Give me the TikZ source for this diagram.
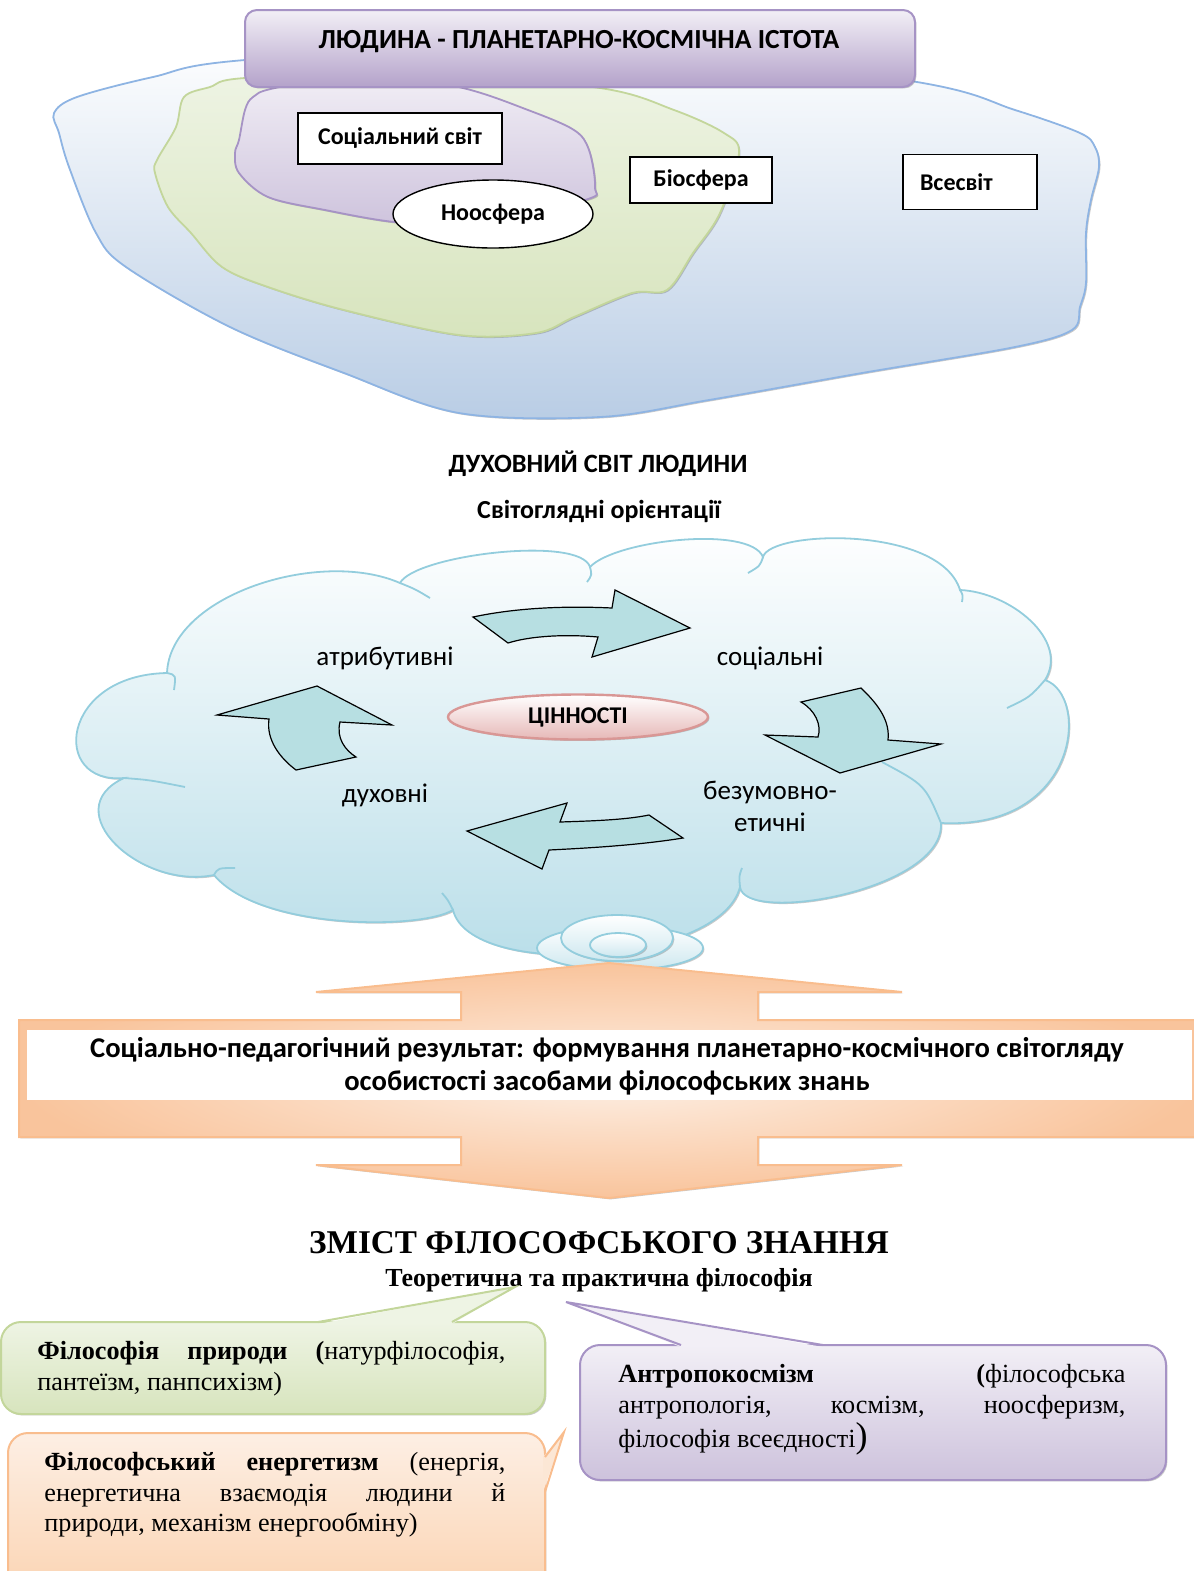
\documentclass[tikz,border=0pt]{standalone}
\usepackage{fontspec}
\setmainfont{Carlito}
\newfontfamily\timesfont{Liberation Serif}
\usetikzlibrary{shapes.geometric,shadows}

\definecolor{skyedge}{HTML}{8EB4E3}
\definecolor{skybottom}{HTML}{B9CDE5}
\definecolor{leafedge}{HTML}{C3D69B}
\definecolor{leaftop}{HTML}{EEF4E4}
\definecolor{leafbottom}{HTML}{D7E4BD}
\definecolor{lilacedge}{HTML}{A693C5}
\definecolor{lilacpale}{HTML}{F2EFF6}
\definecolor{lilacbottom}{HTML}{CDC2DC}
\definecolor{lilacdeep}{HTML}{B4A2CA}
\definecolor{cloudedge}{HTML}{93CDDD}
\definecolor{cloudbottom}{HTML}{B7DDE8}
\definecolor{arrowfill}{HTML}{B7DFE2}
\definecolor{roseedge}{HTML}{D99795}
\definecolor{rosebottom}{HTML}{E6B8B7}
\definecolor{peachedge}{HTML}{F9BD8E}
\definecolor{peachpale}{HTML}{FDEFE4}
\definecolor{peachmid}{HTML}{FBD3B1}
\definecolor{peachdark}{HTML}{F9C49C}

\begin{document}
\begin{tikzpicture}[x=0.5pt, y=-0.5pt,
    softshadow/.style={drop shadow={shadow xshift=0.7pt, shadow yshift=-0.7pt, opacity=0.35, fill=black!60}},
    universe/.style={draw=skyedge, line width=0.9pt, top color=white, bottom color=skybottom, softshadow},
    biosphere/.style={draw=leafedge, line width=0.9pt, top color=leaftop, bottom color=leafbottom, softshadow},
    socium/.style={draw=lilacedge, line width=0.9pt, top color=lilacpale, bottom color=lilacbottom, softshadow},
    framebox/.style={draw, line width=0.7pt, fill=white, inner sep=0pt, font=\bfseries\fontsize{12}{14}\selectfont},
    titlebox/.style={draw=lilacedge, line width=1pt, rounded corners=6pt, top color=lilacpale, bottom color=lilacdeep, softshadow},
    headline/.style={font=\bfseries\fontsize{13.2}{15}\selectfont},
    cloudshape/.style={draw=cloudedge, line width=0.9pt, top color=white, bottom color=cloudbottom, softshadow},
    puffline/.style={draw=cloudedge, line width=0.9pt},
    orient/.style={font=\fontsize{13.5}{16}\selectfont},
    turnarrow/.style={fill=arrowfill, draw=black, line width=0.6pt},
    bubble/.style={ellipse, draw=cloudedge, line width=0.9pt, top color=white, bottom color=cloudbottom!70, inner sep=0pt, softshadow},
    resultarrow/.style={draw=peachedge, line width=1pt, inner color=peachpale, outer color=peachdark, softshadow},
    callout/.style={rounded corners=10pt, line width=1pt, inner sep=0pt, softshadow},
    calltext/.style={font=\timesfont\fontsize{13.1}{15.3}\selectfont, align=left, inner sep=0pt, anchor=north west}]

\useasboundingbox (0,0) rectangle (1194,1571);

% Сфери
\path[universe] plot[smooth cycle, tension=0.55] coordinates {(245,60) (153,77) (77,97) (54,113) (59,133) (69,167) (96,233) (126,267) (230,327) (344,373) (459,413) (600,417) (709,400) (862,373) (1015,347) (1072,330) (1080,307) (1086,283) (1086,233) (1091,200) (1099,167) (1095,147) (1080,133) (1015,110) (917,82) (600,40)};
\path[biosphere] plot[smooth cycle, tension=0.55] coordinates {(245,78) (210,87) (184,97) (176,127) (157,160) (155,173) (168,207) (191,233) (222,267) (268,287) (344,310) (459,335) (536,333) (574,317) (632,293) (667,290) (693,253) (720,213) (739,153) (724,133) (674,110) (600,88) (420,72)};
\path[socium] plot[smooth cycle, tension=0.55] coordinates {(275,88) (253,97) (245,110) (239,140) (235,153) (239,173) (268,197) (325,210) (394,222) (470,226) (585,200) (595,187) (589,150) (574,130) (528,110) (463,88) (370,72)};

\node[framebox, minimum width=102pt, minimum height=25.5pt] (socialworld) at (400,138.5) {Соціальний світ};
\node[framebox, ellipse, minimum width=100pt, minimum height=34pt] (noosphere) at (493,214) {Ноосфера};
\node[framebox, minimum width=71pt, minimum height=23pt] (biosphereBox) at (701,180) {Біосфера};
\node[framebox, text width=50pt, inner xsep=8.5pt, minimum height=27.5pt, align=left] (cosmos) at (970,182) {Всесвіт};

\node[titlebox, minimum width=335pt, minimum height=38.5pt] (titlebar) at (580,48.5) {};
\node[font=\bfseries\fontsize{13.8}{16}\selectfont, anchor=base] (title) at (579,48) {ЛЮДИНА - ПЛАНЕТАРНО-КОСМІЧНА ІСТОТА};

% Духовний світ
\node[headline, anchor=base] (spirit) at (598,472) {ДУХОВНИЙ СВІТ ЛЮДИНИ};
\node[font=\bfseries\fontsize{13}{15}\selectfont, anchor=base] (views) at (599,518) {Світоглядні орієнтації};

\path[cloudshape] (167,673)
  .. controls (170,595) and (320,548) .. (400,583)
  .. controls (415,555) and (580,535) .. (590,567)
  .. controls (615,540) and (750,525) .. (763,557)
  .. controls (770,530) and (940,525) .. (960,590)
  .. controls (1010,592) and (1070,640) .. (1045,680)
  .. controls (1090,695) and (1080,830) .. (941,823)
  .. controls (945,890) and (745,925) .. (740,887)
  .. controls (720,965) and (470,980) .. (453,910)
  .. controls (420,930) and (260,930) .. (214,875)
  .. controls (140,890) and (55,810) .. (124,778)
  .. controls (50,785) and (60,675) .. (167,673) -- cycle;
\draw[puffline] (167,673) .. controls (176,675) .. (174,690);
\draw[puffline] (400,583) .. controls (415,589) .. (430,598);
\draw[puffline] (590,567) .. controls (592,575) .. (587,582);
\draw[puffline] (763,557) .. controls (760,566) .. (748,573);
\draw[puffline] (960,590) .. controls (963,595) .. (962,602);
\draw[puffline] (1045,680) .. controls (1030,697) .. (1007,708);
\draw[puffline] (941,823) .. controls (925,785) .. (882,762);
\draw[puffline] (740,887) .. controls (739,876) .. (742,868);
\draw[puffline] (453,910) .. controls (448,900) .. (442,893);
\draw[puffline] (214,875) .. controls (218,868) .. (235,868);
\draw[puffline] (124,778) .. controls (150,780) .. (185,787);

% Стрілки
\path[turnarrow] (473,617) .. controls (520,607) and (570,606) .. (612,608) -- (615,590) -- (690,628) -- (592,657) -- (598,637) .. controls (565,634) and (530,636) .. (508,643) -- cycle;
\path[turnarrow] (801,702) -- (861,688) .. controls (880,706) and (890,722) .. (888,740) -- (941,744) -- (840,773) -- (765,735) -- (818,737) .. controls (822,725) and (815,710) .. (801,702) -- cycle;
\path[turnarrow] (649,815) -- (683,838) .. controls (640,845) and (590,848) .. (549,850) -- (542,869) -- (467,831) -- (567,803) -- (560,822) .. controls (590,821) and (625,820) .. (649,815) -- cycle;
\path[turnarrow] (217,715) -- (317,686) -- (392,725) -- (340,722) .. controls (336,738) and (345,750) .. (356,757) -- (296,770) .. controls (280,758) and (266,740) .. (269,719) -- cycle;

\node[ellipse, draw=roseedge, line width=1.2pt, top color=white, bottom color=rosebottom, minimum width=130pt, minimum height=22.5pt, inner sep=0pt, softshadow, font=\bfseries\fontsize{12}{14}\selectfont] (values) at (578,717) {ЦІННОСТІ};

\node[orient, anchor=base] (attributive) at (385,665) {атрибутивні};
\node[orient, anchor=base] (social) at (770,665) {соціальні};
\node[orient, anchor=base] (spiritual) at (385,802) {духовні};
\node[orient, align=center] (ethical) at (770,806) {безумовно-\\етичні};

\node[bubble, minimum width=83pt, minimum height=22pt] (bubbleA) at (620,948) {};
\node[bubble, minimum width=56pt, minimum height=23pt] (bubbleB) at (617,938) {};
\node[bubble, minimum width=28pt, minimum height=12pt] (bubbleC) at (618,945) {};

% Результат
\path[resultarrow] (609,963) -- (902,992) -- (758,992) -- (758,1020) -- (1200,1020) -- (1200,1137) -- (758,1137) -- (758,1165) -- (902,1165) -- (609,1198) -- (316,1165) -- (461,1165) -- (461,1137) -- (19,1137) -- (19,1020) -- (461,1020) -- (461,992) -- (316,992) -- cycle;
\fill[white] (27,1030) rectangle (1192,1100);
\node[font=\bfseries\fontsize{14.3}{16.5}\selectfont, align=center] (result) at (607,1066) {Соціально-педагогічний результат: формування планетарно-космічного світогляду\\особистості засобами філософських знань};

% Зміст
\node[font=\timesfont\bfseries\fontsize{16.6}{20}\selectfont, anchor=base] (content) at (599,1253) {ЗМІСТ ФІЛОСОФСЬКОГО ЗНАННЯ};
\node[font=\timesfont\bfseries\fontsize{13}{15}\selectfont, anchor=base] (branches) at (599,1286) {Теоретична та практична філософія};

\node[callout, draw=leafedge, top color=leaftop, bottom color=leafbottom, minimum width=272pt, minimum height=46pt] (natureCall) at (273,1368) {};
\fill[leaftop] (318,1324) -- (515,1287) -- (452,1324) -- cycle;
\draw[leafedge, line width=1pt] (318,1322) -- (515,1287) -- (452,1322);
\node[calltext] (natureText) at (37,1341) {\makebox[234pt][s]{\textbf{Філософія природи (}натурфілософія,}\\пантеїзм, панпсихізм)};

\node[callout, draw=peachedge, top color=peachpale, bottom color=peachmid, minimum width=268.5pt, minimum height=83.5pt] (energyCall) at (276.5,1516.5) {};
\fill[peachpale!70!peachmid] (543,1457) -- (564,1432) -- (543,1492) -- cycle;
\draw[peachedge, line width=1pt] (545,1457) -- (564,1432) -- (545,1492);
\node[calltext] (energyText) at (44,1452) {\makebox[230.5pt][s]{\textbf{Філософський енергетизм} (енергія,}\\\makebox[230.5pt][s]{енергетична взаємодія людини й}\\природи, механізм енергообміну)};

\node[callout, draw=lilacedge, top color=lilacpale, bottom color=lilacbottom, minimum width=293pt, minimum height=67.5pt] (anthropoCall) at (873,1412.5) {};
\fill[lilacpale] (681,1347) -- (566,1302) -- (823,1347) -- cycle;
\draw[lilacedge, line width=1pt] (681,1345) -- (566,1302) -- (823,1345);
\node[calltext] (anthropoText) at (618,1364) {\makebox[253.5pt][s]{\textbf{Антропокосмізм (}філософська}\\\makebox[253.5pt][s]{антропологія, космізм, ноосферизм,}\\[2pt]філософія всеєдності{\fontsize{18}{18}\selectfont)}};

\end{tikzpicture}
\end{document}
